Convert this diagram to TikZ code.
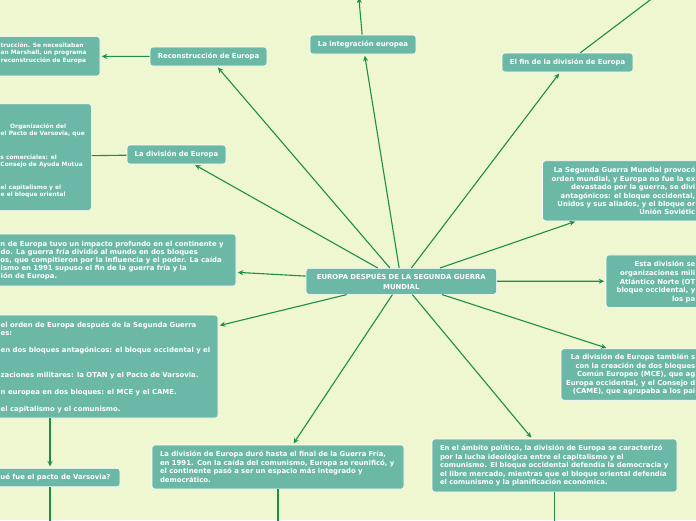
\documentclass[tikz,border=0pt]{standalone}
\usepackage{fontspec}
\setmainfont{DejaVu Sans}
\usetikzlibrary{arrows.meta}
\definecolor{bgc}{HTML}{EEF7D0}
\definecolor{boxc}{HTML}{6BB8A7}
\definecolor{linec}{HTML}{1E8C4A}
\newcommand\mytxfont{\fontsize{6.9}{8.5}\selectfont\bfseries}
\newcommand\mysmfont{\fontsize{5.9}{7.2}\selectfont\bfseries}
\newcommand\myttlfont{\fontsize{6.9}{9.3}\selectfont\bfseries}
\tikzset{
  bx/.style={draw=white, line width=0.6pt, fill=boxc, rounded corners=3pt, inner sep=0pt},
  hd/.style={bx, minimum height=19pt, text=white, font=\mytxfont},
  txt/.style={bx, text=white, font=\mytxfont, align=left, inner xsep=8pt, inner ysep=0pt},
  tl/.style={text=white, font=\mytxfont, inner sep=0pt, anchor=base west},
  tr/.style={tl, anchor=base east},
  sl/.style={tl, font=\mysmfont},
  conn/.style={draw=linec, line width=1.1pt},
  arr/.style={conn, -{Stealth[length=5.5pt,width=5pt]}, shorten >=1.5pt},
}
\begin{document}
\begin{tikzpicture}[x=1pt,y=-1pt]
\fill[bgc] (0,0) rectangle (696,520);
\useasboundingbox (0,0) rectangle (696,520);

% central
\node[bx, text=white, font=\myttlfont, align=center, minimum width=190.7pt, minimum height=26pt] (c) at (401.3,281.3)
  {EUROPA DESPUÉS DE LA SEGUNDA GUERRA\\MUNDIAL};

% heading nodes
\node[hd, minimum width=117pt] (rec) at (208.5,56.5) {Reconstrucción de Europa};
\node[hd, minimum width=99pt] (div) at (176.5,154.5) {La división de Europa};
\node[hd, minimum width=106pt] (integ) at (363,44.5) {La integración europea};
\node[hd, minimum width=131pt] (fin) at (567.5,62.5) {El fin de la división de Europa};

% full text boxes
\node[txt, text width=236pt, minimum width=252pt, minimum height=44pt] (b8) at (278,467)
  {La división de Europa duró hasta el final de la Guerra Fría,\\en 1991. Con la caída del comunismo, Europa se reunificó, y\\el continente pasó a ser un espacio más integrado y\\democrático.};
\node[txt, text width=229pt, minimum width=245pt, minimum height=53pt] (b9) at (554.5,465.5)
  {En el ámbito político, la división de Europa se caracterizó\\por la lucha ideológica entre el capitalismo y el\\comunismo. El bloque occidental defendía la democracia y\\el libre mercado, mientras que el bloque oriental defendía\\el comunismo y la planificación económica.};

% clipped boxes (shapes)
\node[bx, minimum width=200pt, minimum height=39.3pt] (b2) at (0,56.3) {};
\node[bx, minimum width=222.6pt, minimum height=107pt] (b4) at (-20,157.2) {};
\node[bx, minimum width=452pt, minimum height=52pt] (b5) at (10,260) {};
\node[bx, minimum width=336pt, minimum height=103pt] (b6) at (50,366.5) {};
\node[bx, minimum width=140pt, minimum height=18.5pt] (var) at (50,477.5) {};
\node[bx, minimum width=254pt, minimum height=51.5pt] (b10) at (688,374.5) {};
\node[bx, minimum width=180pt, minimum height=52.5pt] (b11) at (696,281.2) {};
\node[bx, minimum width=244pt, minimum height=60pt] (b12) at (664.5,190.8) {};

% texts of clipped boxes
\node[sl] (b2a) at (0.4,47.6) {trucción. Se necesitaban};
\node[sl] (b2b) at (0.4,54.8) {an Marshall, un programa};
\node[sl] (b2c) at (0.8,62.0) {reconstrucción de Europa};

\node[sl] (b4a) at (10,128.6) {Organización del};
\node[sl] (b4b) at (0.5,135.6) {el Pacto de Varsovia, que};
\node[sl] (b4c) at (0.3,159.0) {s comerciales: el};
\node[sl] (b4d) at (0.3,166.0) {Consejo de Ayuda Mutua};
\node[sl] (b4e) at (0.5,189.3) {el capitalismo y el};
\node[sl] (b4f) at (0.5,196.3) {e el bloque oriental};

\node[tl] (b5a) at (0.3,246.1) {n de Europa tuvo un impacto profundo en el continente y};
\node[tl] (b5b) at (0.5,254.3) {do. La guerra fría dividió al mundo en dos bloques};
\node[tl] (b5c) at (0.3,262.5) {os, que compitieron por la influencia y el poder. La caída};
\node[tl] (b5d) at (0.5,270.7) {ismo en 1991 supuso el fin de la guerra fría y la};
\node[tl] (b5e) at (0.5,278.9) {ión de Europa.};

\node[tl] (b6a) at (0.5,327.5) {el orden de Europa después de la Segunda Guerra};
\node[tl] (b6b) at (0.5,335.5) {es:};
\node[tl] (b6c) at (0.5,352.5) {en dos bloques antagónicos: el bloque occidental y el};
\node[tl] (b6d) at (0.5,377.5) {zaciones militares: la OTAN y el Pacto de Varsovia.};
\node[tl] (b6e) at (0.5,394.2) {n europea en dos bloques: el MCE y el CAME.};
\node[tl] (b6f) at (0.5,411.9) {el capitalismo y el comunismo.};

\node[tl] (vart) at (0.3,479.8) {ué fue el pacto de Varsovia?};

\node[tr] (b10a) at (695.5,359.5) {La división de Europa también s};
\node[tr] (b10b) at (695.5,368.1) {con la creación de dos bloques};
\node[tr] (b10c) at (695.5,376.7) {Común Europeo (MCE), que ag};
\node[tr] (b10d) at (695.5,385.3) {Europa occidental, y el Consejo d};
\node[tr] (b10e) at (695.5,393.9) {(CAME), que agrupaba a los pai};

\node[tr] (b11a) at (695.5,266.9) {Esta división se};
\node[tr] (b11b) at (695.5,275.5) {organizaciones mili};
\node[tr] (b11c) at (695.5,284.1) {Atlántico Norte (OT};
\node[tr] (b11d) at (695.5,292.7) {bloque occidental, y};
\node[tr] (b11e) at (695.5,301.3) {los pa};

\node[tr] (b12a) at (695.5,172.9) {La Segunda Guerra Mundial provocó};
\node[tr] (b12b) at (695.5,181.3) {orden mundial, y Europa no fue la ex};
\node[tr] (b12c) at (695.5,189.7) {devastado por la guerra, se divi};
\node[tr] (b12d) at (695.5,198.1) {antagónicos: el bloque occidental,};
\node[tr] (b12e) at (695.5,206.5) {Unidos y sus aliados, y el bloque or};
\node[tr] (b12f) at (695.5,214.9) {Unión Soviétic};

% off-canvas ends
\coordinate (io) at (358.7,-4);
\coordinate (fo) at (674.8,-18.75);
\coordinate (vo) at (50,530);
\coordinate (b8o) at (278,530);
\coordinate (b9o) at (554.5,530);

% connectors
\draw[arr] (c) -- (rec);
\draw[arr] (c) -- (div);
\draw[arr] (c) -- (integ);
\draw[arr] (c) -- (fin);
\draw[arr] (c) -- (b12);
\draw[arr] (c) -- (b11);
\draw[arr] (c) -- (b10);
\draw[arr] (c) -- (b9);
\draw[arr] (c) -- (b8);
\draw[arr] (c) -- (b6);
\draw[arr] (c) -- (b5);
\draw[arr] (rec) -- (b2);
\draw[conn] (div) -- (b4);
\draw[arr] (b6) -- (var);
\draw[arr] (var) -- (vo);
\draw[arr] (b8) -- (b8o);
\draw[arr] (b9) -- (b9o);
\draw[arr] (fin) -- (fo);
\draw[arr] (integ) -- (io);
\end{tikzpicture}
\end{document}
